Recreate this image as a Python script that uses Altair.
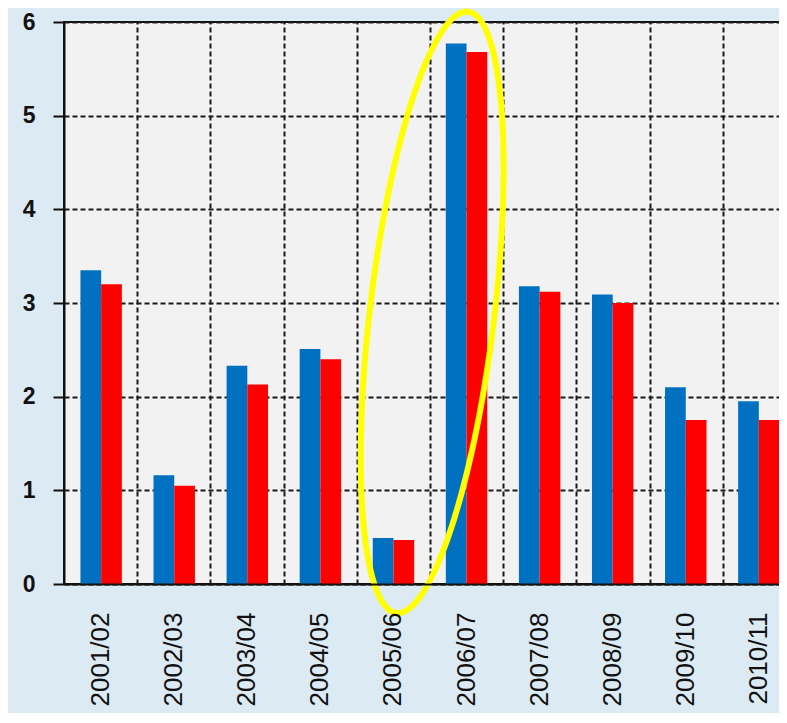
import altair as alt
import pandas as pd
import numpy as np

years = ["2001/02", "2002/03", "2003/04", "2004/05", "2005/06",
         "2006/07", "2007/08", "2008/09", "2009/10", "2010/11"]
blue_values = [3.35, 1.16, 2.33, 2.51, 0.49, 5.77, 3.18, 3.09, 2.10, 1.95]
red_values = [3.20, 1.05, 2.13, 2.40, 0.47, 5.68, 3.12, 3.00, 1.75, 1.75]
series_names = ["A", "B"]
series_colors = ["#0070C0", "#FF0000"]

rows = []
for i, y in enumerate(years):
    rows.append({"year": y, "series": "A", "value": blue_values[i]})
    rows.append({"year": y, "series": "B", "value": red_values[i]})
df = pd.DataFrame(rows)

# Highlight ellipse (annotation) in data units: x in category slots (0..10), y in value units
ell_center = (5.03, 2.90)
ell_top = (5.52, 6.11)
ell_minor = 0.85  # in category slots (approx)
t = np.linspace(0, 2 * np.pi, 121)
px_x, px_y = 73.2, 93.7
ux = (ell_top[0] - ell_center[0]) * px_x
uy = (ell_top[1] - ell_center[1]) * px_y
L = np.hypot(ux, uy)
vx, vy = uy / L, -ux / L
b_px = ell_minor * px_x
ex = ell_center[0] + (np.cos(t) * ux + np.sin(t) * vx * b_px) / px_x
ey = ell_center[1] + (np.cos(t) * uy + np.sin(t) * vy * b_px) / px_y
ell_df = pd.DataFrame({"x": ex, "y": ey, "o": np.arange(len(t))})

yscale = alt.Scale(domain=[0, 6], nice=False, zero=True)

bars = alt.Chart(df).mark_bar().encode(
    x=alt.X("year:N", sort=years,
            scale=alt.Scale(paddingInner=0.433, paddingOuter=0.225),
            axis=alt.Axis(title=None, labelAngle=-90, labelFont="Liberation Sans",
                          labelFontSize=26, labelColor="#111", labelPadding=28,
                          ticks=False, domainColor="#111", domainWidth=2, zindex=1,
                          grid=False)),
    xOffset=alt.XOffset("series:N", sort=series_names),
    y=alt.Y("value:Q", scale=yscale,
            axis=alt.Axis(title=None, values=[0, 1, 2, 3, 4, 5, 6], format="d",
                          labelFont="Liberation Sans", labelFontWeight="bold",
                          labelFontSize=23, labelColor="#111", labelPadding=18,
                          tickSize=11, tickColor="#111", tickWidth=2,
                          domainColor="#111", domainWidth=2,
                          grid=True, gridColor="#1a1a1a", gridWidth=2, gridDash=[5, 3])),
    color=alt.Color("series:N", sort=series_names,
                    scale=alt.Scale(domain=series_names, range=series_colors),
                    legend=None),
)

ellipse = alt.Chart(ell_df).mark_line(color="#FFFF00", strokeWidth=6).encode(
    x=alt.X("x:Q", scale=alt.Scale(domain=[0, 10], nice=False, zero=False),
            axis=alt.Axis(orient="top", values=[1, 2, 3, 4, 5, 6, 7, 8, 9],
                          labels=False, ticks=False, domain=False, title=None,
                          grid=True, gridColor="#1a1a1a", gridWidth=2, gridDash=[5, 3])),
    y=alt.Y("y:Q", scale=yscale),
    order="o:Q",
)

chart = alt.layer(bars, ellipse).resolve_scale(x="independent").properties(
    width=732, height=562,
    background="#DCEBF3",
    autosize=alt.AutoSizeParams(type="none"),
    padding={"left": 56, "top": 14, "right": -17, "bottom": 129},
).configure_view(fill="#F2F2F2", stroke="#111", strokeWidth=2)

chart.save("out.html", embed_options={"renderer": "svg", "actions": False})
